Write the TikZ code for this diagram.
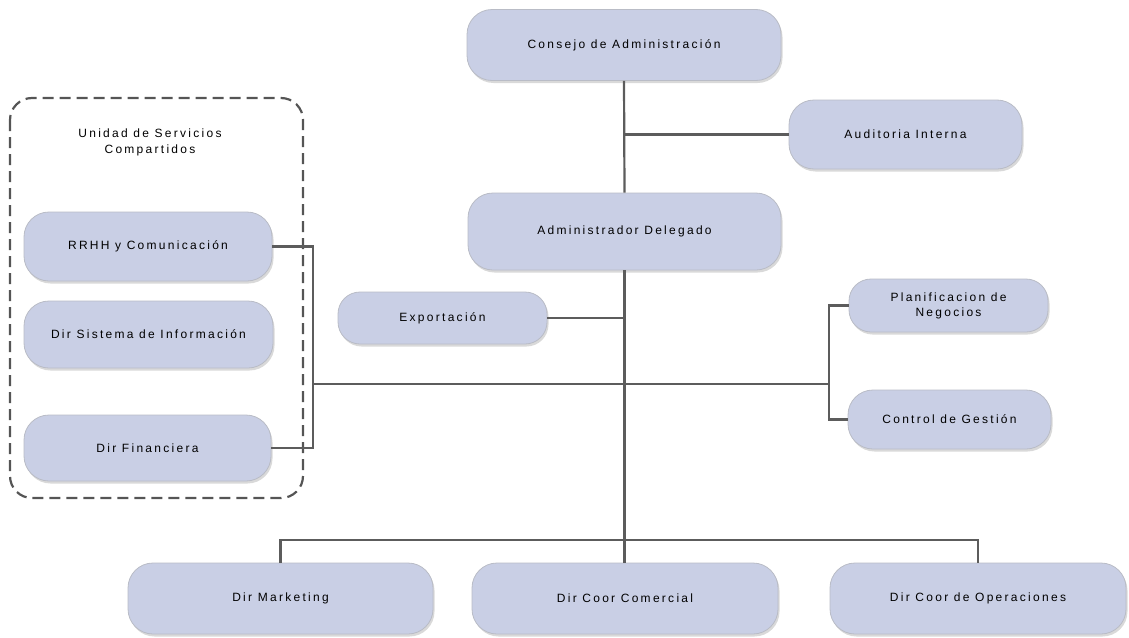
\documentclass[tikz,border=0pt]{standalone}
\usepackage{fontspec}
\setmainfont{Liberation Sans}[LetterSpace=19]
\usetikzlibrary{shadows}
\definecolor{boxfill}{RGB}{201,207,229}
\definecolor{boxline}{RGB}{185,188,198}
\definecolor{linkgray}{RGB}{92,92,92}
\definecolor{frame}{RGB}{85,85,85}
\begin{document}
\begin{tikzpicture}[x=1pt,y=-1pt,
  unit/.style={draw=boxline, line width=0.8pt, fill=boxfill, rounded corners=25pt,
    drop shadow={shadow xshift=1.5pt, shadow yshift=-2.5pt, opacity=0.25, fill=black!60},
    font=\fontsize{12}{15}\selectfont, text=black, align=center, inner sep=0pt},
  link/.style={draw=linkgray, line width=2.2pt},
  label/.style={font=\fontsize{12}{16}\selectfont, text=black, align=center}]
\useasboundingbox (0,0) rectangle (1129,637);

% shared services frame
\draw[frame, line width=2.2pt, dash pattern=on 11pt off 6pt, rounded corners=22pt]
  (10,98) rectangle (303,498);
\node[label] (shared) at (150,142) {Unidad de Servicios\\Compartidos};

% units
\node[unit, minimum width=314pt, minimum height=71pt] (consejo) at (624,45) {Consejo de Administración};
\node[unit, minimum width=233pt, minimum height=69pt] (auditoria) at (905.5,134.5) {Auditoria Interna};
\node[unit, minimum width=313pt, minimum height=77pt] (admin) at (624.5,231.5) {Administrador Delegado};
\node[unit, minimum width=209pt, minimum height=52pt, rounded corners=22pt] (export) at (442.5,318) {Exportación};
\node[unit, minimum width=199pt, minimum height=53pt, rounded corners=22pt] (plan) at (948.5,305.5) {Planificacion de\\Negocios};
\node[unit, minimum width=203pt, minimum height=59pt] (control) at (949.5,419.5) {Control de Gestión};
\node[unit, minimum width=248pt, minimum height=69pt] (rrhh) at (148,246.5) {RRHH y Comunicación};
\node[unit, minimum width=249pt, minimum height=67pt] (sistema) at (148.5,334.5) {Dir Sistema de Información};
\node[unit, minimum width=247pt, minimum height=66pt] (financiera) at (147.5,448) {Dir Financiera};
\node[unit, minimum width=305pt, minimum height=71pt] (marketing) at (280.5,598.5) {Dir Marketing};
\node[unit, minimum width=306pt, minimum height=71pt] (comercial) at (625,598.5) {Dir Coor Comercial};
\node[unit, minimum width=296pt, minimum height=71pt] (operaciones) at (978,598.5) {Dir Coor de Operaciones};

% bus junctions
\coordinate (leftbus) at (313,384);
\coordinate (rightbus) at (829,384);

% connectors
\draw[link] (consejo.south) -- (admin.north);
\draw[link] (consejo.south |- auditoria.west) -- (auditoria.west);
\draw[link] (admin.south) -- (admin.south |- comercial.north);
\draw[link] (export.east) -- (export.east -| admin.south);
\draw[link] (marketing.north) -- ++(0,-23) -| (operaciones.north);
\draw[link] (rrhh.east) -| (leftbus) |- (financiera.east);
\draw[link] (leftbus) -- (rightbus);
\draw[link] (plan.west) -| (rightbus) |- (control.west);
\end{tikzpicture}
\end{document}
